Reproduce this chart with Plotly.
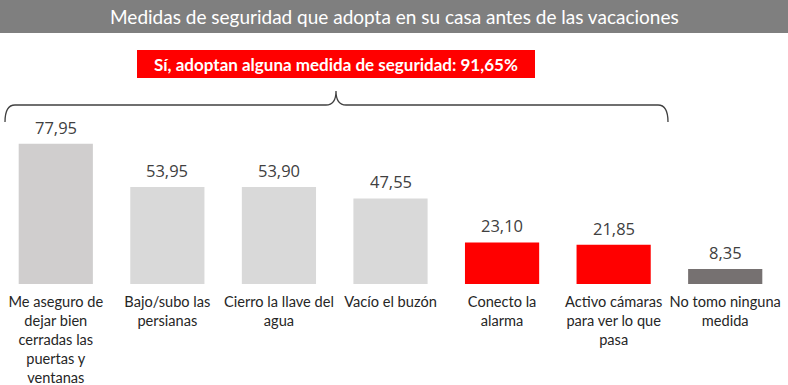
import plotly.graph_objects as go

# ---- data ----
categories = [
    "Me aseguro de<br>dejar bien<br>cerradas las<br>puertas y<br>ventanas",
    "Bajo/subo las<br>persianas",
    "Cierro la llave del<br>agua",
    "Vacío el buzón",
    "Conecto la<br>alarma",
    "Activo cámaras<br>para ver lo que<br>pasa",
    "No tomo ninguna<br>medida",
]
values = [77.95, 53.95, 53.90, 47.55, 23.10, 21.85, 8.35]
bar_colors = ["#D0CECE", "#D9D9D9", "#D9D9D9", "#D9D9D9", "#FF0000", "#FF0000", "#767171"]
title_text = "Medidas de seguridad que adopta en su casa antes de las vacaciones"
summary_text = "Sí, adoptan alguna medida de seguridad: 91,65%"

# ---- layout geometry (pixels) ----
W, H = 788, 385
ML, MR, MT, MB = 0, 7, 0, 101
PW = W - ML - MR
PH = H - MT - MB


def px(x):
    return (x - ML) / PW


def py(y):
    return (MT + PH - y) / PH


xs = list(range(len(categories)))
labels = [f"{v:.2f}".replace(".", ",") for v in values]

fig = go.Figure()
fig.add_trace(go.Bar(
    x=xs, y=values, marker=dict(color=bar_colors, line=dict(width=0)),
    hoverinfo="skip",
))

annotations = []
for x, v, t in zip(xs, values, labels):
    annotations.append(dict(
        x=x, y=v, xref="x", yref="y", text=t, showarrow=False,
        yanchor="bottom", yshift=3,
        font=dict(family="Open Sans", size=16.5, color="#404040"),
    ))

# title
annotations.append(dict(
    x=px(395), y=py(16.5), xref="paper", yref="paper", text=title_text,
    showarrow=False, xanchor="center", yanchor="middle",
    font=dict(family="Lato", size=19, color="#FFFFFF"),
))
# summary
annotations.append(dict(
    x=px(336), y=py(64), xref="paper", yref="paper", text="<b>" + summary_text + "</b>",
    showarrow=False, xanchor="center", yanchor="middle",
    font=dict(family="Lato", size=17, color="#FFFFFF"),
))

shapes = [
    dict(type="rect", xref="paper", yref="paper", x0=px(0), x1=px(W), y0=py(0), y1=py(33),
         fillcolor="#7F7F7F", line=dict(width=0), layer="below"),
    dict(type="rect", xref="paper", yref="paper", x0=px(137), x1=px(535), y0=py(50), y1=py(78),
         fillcolor="#FF0000", line=dict(width=0), layer="below"),
]

pts = [("M", [(5, 122)]), ("Q", [(5, 105), (15, 105)]), ("L", [(326, 105)]),
       ("Q", [(336, 105), (336, 91)]), ("Q", [(336, 105), (346, 105)]), ("L", [(658, 105)]),
       ("Q", [(668, 105), (668, 122)])]
path = " ".join(cmd + " " + " ".join(f"{px(a):.5f},{py(b):.5f}" for a, b in p) for cmd, p in pts)
shapes.append(dict(type="path", xref="paper", yref="paper", path=path,
                   line=dict(color="#404040", width=1.3)))

fig.update_layout(
    width=W, height=H,
    margin=dict(l=ML, r=MR, t=MT, b=MB, pad=0, autoexpand=False),
    paper_bgcolor="#FFFFFF", plot_bgcolor="#FFFFFF",
    bargap=0.335, showlegend=False,
    annotations=annotations, shapes=shapes,
    xaxis=dict(range=[-0.5, len(categories) - 0.5], tickmode="array", tickvals=xs,
               ticktext=categories, showgrid=False, zeroline=False, showline=False,
               ticks="", ticklabelstandoff=7, automargin=False,
               tickfont=dict(family="Lato", size=14.6, color="#262626")),
    yaxis=dict(range=[0, PH / 1.8], visible=False, showgrid=False, zeroline=False,
               automargin=False),
)

fig.write_html(
    "out.html",
    config={"displayModeBar": False},
    post_script="document.body.style.margin='0';document.body.style.overflow='hidden';",
)
